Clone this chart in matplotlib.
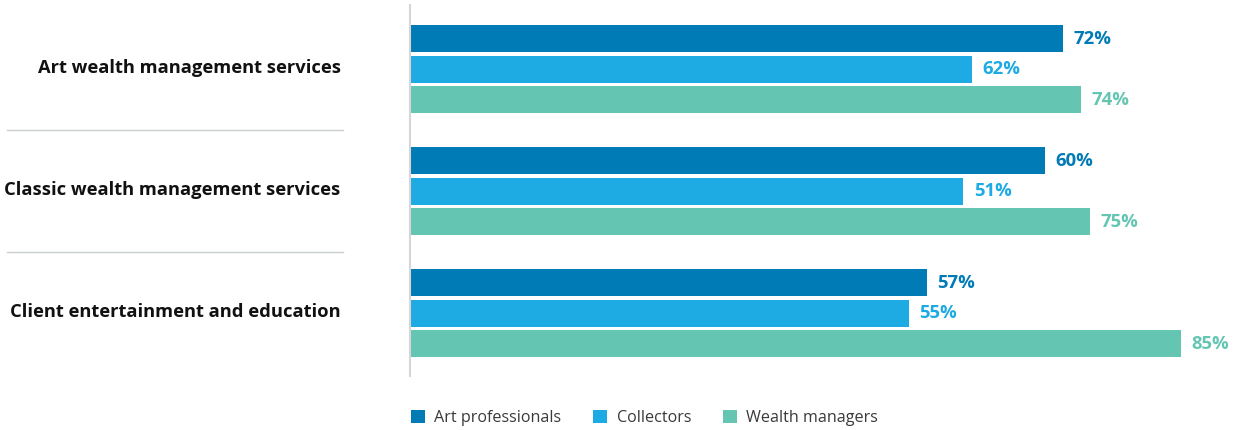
import numpy as np
import matplotlib
matplotlib.use("Agg")
import matplotlib.pyplot as plt
import matplotlib.transforms as mtransforms
from matplotlib.patches import Patch

plt.rcParams["font.family"] = ["Open Sans", "DejaVu Sans"]

categories = ["Art wealth management services",
              "Classic wealth management services",
              "Client entertainment and education"]
series = ["Art professionals", "Collectors", "Wealth managers"]
# printed labels
art_professionals = [72, 60, 57]
collectors = [62, 51, 55]
wealth_managers = [74, 75, 85]
# bar lengths as drawn in the original (middle group is drawn longer than its labels)
art_professionals_bar = [72, 70, 57]
collectors_bar = [62, 61, 55]
wealth_managers_bar = [74, 75, 85]
colors = ["#007bb6", "#1eaae2", "#64c6b2"]

W, H = 1240, 430
fig = plt.figure(figsize=(W / 100, H / 100), dpi=100)
# axes spans x 410..1240 px, y 5..376 px
ax = fig.add_axes([410 / W, 1 - 376 / H, 830 / W, 371 / H])

y = np.arange(len(categories))
step = 30.5 / 122
height = 27 / 122
bars = [art_professionals_bar, collectors_bar, wealth_managers_bar]
labels = [art_professionals, collectors, wealth_managers]
for i, (lens, vals, col) in enumerate(zip(bars, labels, colors)):
    pos = y + (i - 1) * step
    ax.barh(pos, lens, height=height, color=col, edgecolor="none")
    for p, b, v in zip(pos, lens, vals):
        ax.annotate(f"{v}%", (b, p), xytext=(7.5, 0), textcoords="offset points",
                    va="center", ha="left", fontsize=13.3, fontweight="bold",
                    color=col)

ax.set_xlim(0, 830 / 9.07)
ax.set_ylim(2.516, -0.525)
ax.set_xticks([])
ax.set_yticks(y)
ax.set_yticklabels(categories, fontsize=13.2, fontweight="bold", color="#111111")
ax.tick_params(axis="y", length=0, pad=50)
# nudge category labels up a little
shift = mtransforms.ScaledTranslation(0, 3 / 100, fig.dpi_scale_trans)
for lab in ax.get_yticklabels():
    lab.set_transform(lab.get_transform() + shift)
for s in ["top", "right", "bottom"]:
    ax.spines[s].set_visible(False)
ax.spines["left"].set_color("#d6d6d6")
ax.spines["left"].set_linewidth(1.5)

# separators between groups
trans = mtransforms.blended_transform_factory(fig.transFigure, ax.transData)
for yy in [0.5, 1.5]:
    ax.plot([7 / W, 343 / W], [yy, yy], transform=trans, color="#c9ced1",
            linewidth=1, clip_on=False)

handles = [Patch(facecolor=c, edgecolor="none") for c in colors]
fig.legend(handles, series, loc="center left",
           bbox_to_anchor=(396 / W, 1 - 418 / H), ncol=3, frameon=False,
           fontsize=11.6, handlelength=0.88, handleheight=0.88,
           handletextpad=0.6, columnspacing=1.95, labelcolor="#3a3a3a")

fig.savefig("out.png", dpi=100)
